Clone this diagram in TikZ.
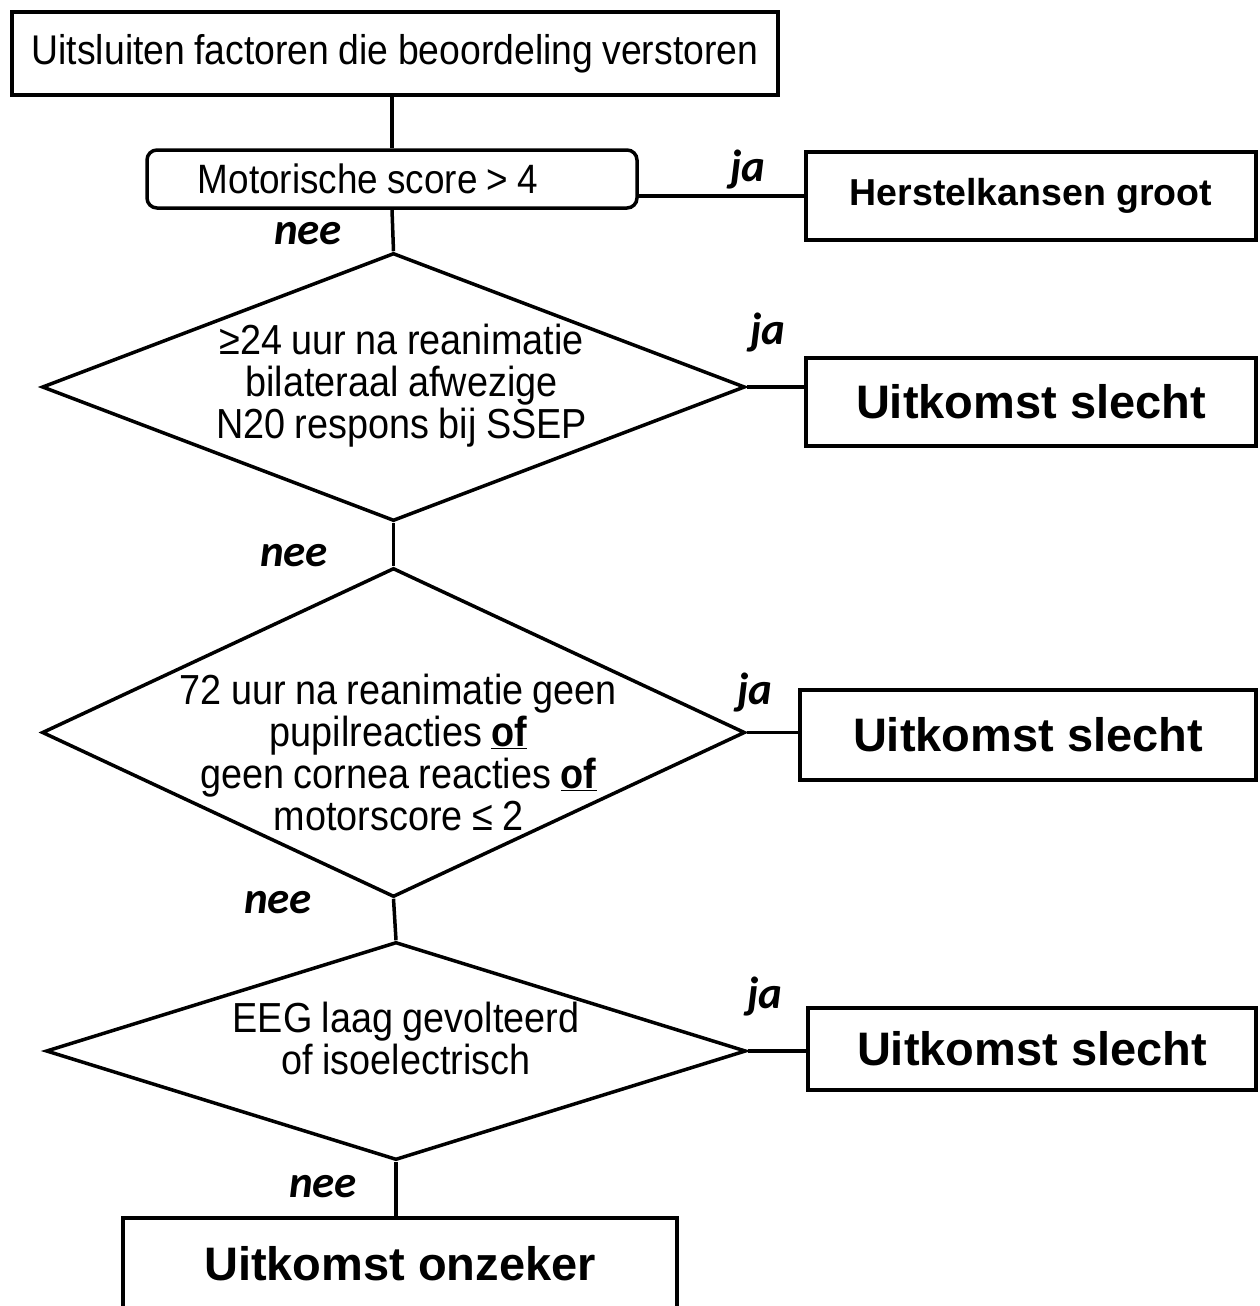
\documentclass[tikz,border=0pt]{standalone}
\usepackage{fontspec}
\setmainfont{Liberation Sans}[FakeStretch=0.9, WordSpace=0.9]
\newfontfamily\headfont{Liberation Sans}
\newfontfamily\jafont{Carlito}
\usetikzlibrary{shapes.geometric}

\begin{document}
\begin{tikzpicture}[x=1pt, y=-1pt, line width=3.5pt,
  box/.style = {draw, minimum height=83pt, inner sep=0pt,
    font=\fontsize{41.5}{42}\selectfont},
  result/.style = {draw, minimum width=450pt, minimum height=88pt, inner sep=0pt,
    font=\headfont\bfseries\fontsize{47}{50}\selectfont},
  test/.style = {draw, diamond, minimum width=703pt, inner sep=0pt},
  dtext/.style = {align=center, font=\fontsize{42}{42}\selectfont},
  lbl/.style = {font=\jafont\bfseries\itshape\fontsize{45}{46}\selectfont}
  ]
  \useasboundingbox (0,0) rectangle (1259,1306);

  \node (excl) [box, minimum width=766pt] at (395,53.5)
    {Uitsluiten factoren die beoordeling verstoren};
  \node (motor) [box, minimum width=490pt, minimum height=58pt,
    rounded corners=10pt,
    label={[font=\fontsize{41}{42}\selectfont, xshift=-24pt]center:{Motorische score > 4}}]
    at (392,179) {};
  \node (herstel) [result, font=\headfont\bfseries\fontsize{37.5}{40}\selectfont]
    at (1031,196) {Herstelkansen groot};

  \node (ssep) [test, minimum height=268pt,
    label={[dtext, xshift=8pt, yshift=1pt]center:{≥24 uur na reanimatie\\
      bilateraal afwezige\\ N20 respons bij SSEP}}] at (393.5,387) {};
  \node (slecht1) [result] at (1031,402) {Uitkomst slecht};

  \node (pupil) [test, minimum height=329pt,
    label={[dtext, xshift=5pt, yshift=-20pt]center:{72 uur na reanimatie geen\\
      pupilreacties \underline{\textbf{of}}\\
      geen cornea reacties \underline{\textbf{of}}\\
      motorscore ≤ 2}}] at (393.5,732.5) {};
  \node (slecht2) [result, minimum width=456pt, minimum height=90pt]
    at (1028,735) {Uitkomst slecht};

  \node (eeg) [test, minimum width=700pt, minimum height=218pt,
    label={[dtext, xshift=10pt, yshift=13pt]center:{EEG laag gevolteerd\\
      of isoelectrisch}}] at (396,1051) {};
  \node (slecht3) [result, minimum width=448pt, minimum height=82pt]
    at (1032,1049) {Uitkomst slecht};

  \node (onzeker) [result, minimum width=554pt, minimum height=92pt]
    at (400,1264) {Uitkomst onzeker};

  \draw (excl.south -| motor.north) -- (motor.north);
  \draw (motor.south) -- (ssep.north);
  \draw (herstel.west) -- (herstel.west -| motor.east);
  \draw (ssep.east) -- (ssep.east -| slecht1.west);
  \draw (ssep.south) -- (pupil.north);
  \draw (pupil.east) -- (pupil.east -| slecht2.west);
  \draw (pupil.south) -- (eeg.north);
  \draw (eeg.east) -- (eeg.east -| slecht3.west);
  \draw (eeg.south) -- (onzeker.north -| eeg.south);

  \node [lbl] at (748,170) {ja};
  \node [lbl] at (308,234) {nee};
  \node [lbl] at (768,333) {ja};
  \node [lbl] at (294,556) {nee};
  \node [lbl] at (755,693) {ja};
  \node [lbl] at (278,903) {nee};
  \node [lbl] at (765,997) {ja};
  \node [lbl] at (323,1187) {nee};
\end{tikzpicture}
\end{document}
